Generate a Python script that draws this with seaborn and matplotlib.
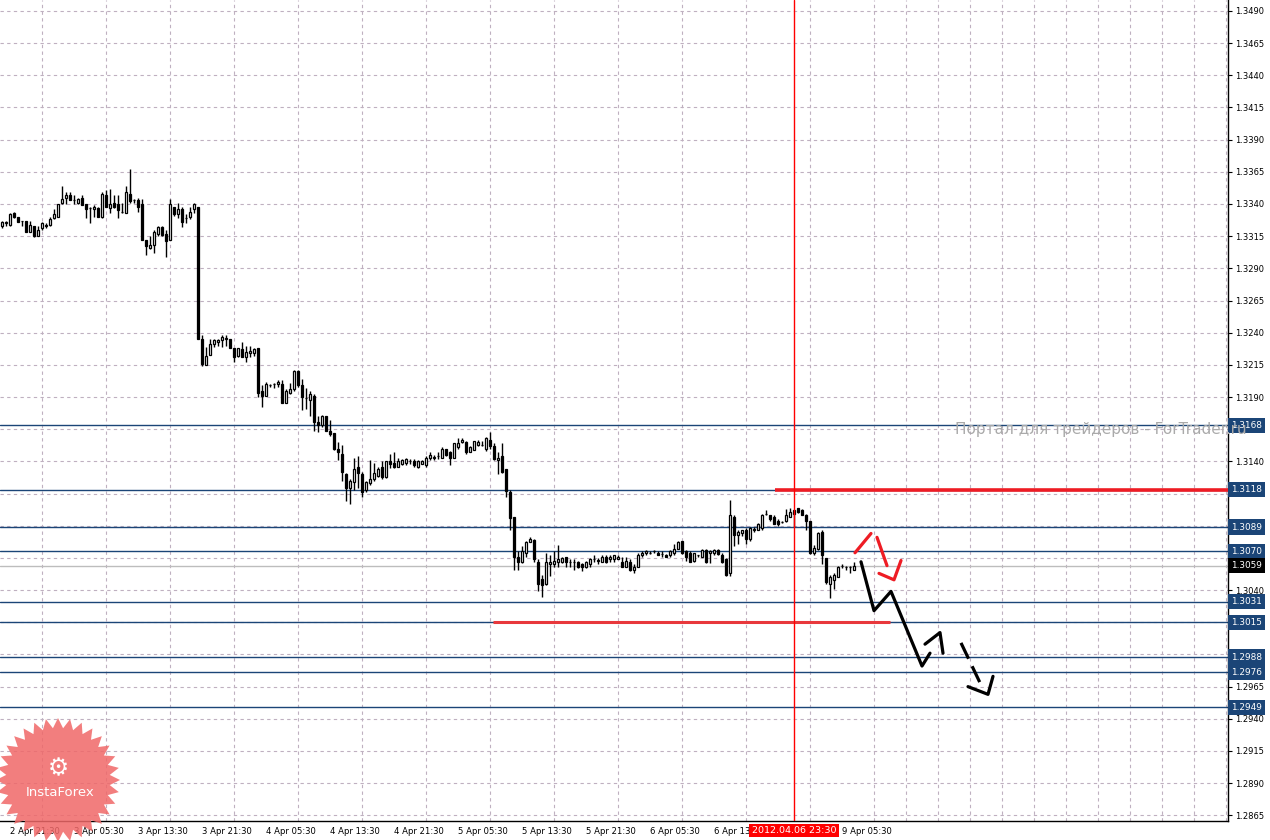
import numpy as np
import matplotlib
matplotlib.use("Agg")
import matplotlib.pyplot as plt
import matplotlib.transforms as mtransforms
from matplotlib.patches import Polygon
import seaborn as sns
import pandas as pd

# EURUSD M30, bar index 0 = 2 Apr 20:30
opens = [
    1.3323, 1.3325, 1.3324, 1.3333, 1.3330, 1.3327, 1.3327, 1.3318, 1.3323, 1.3315,
    1.3321, 1.3324, 1.3324, 1.3329, 1.3330, 1.3341, 1.3345, 1.3347, 1.3343, 1.3341,
    1.3345, 1.3340, 1.3337, 1.3336, 1.3337, 1.3330, 1.3347, 1.3337, 1.3341, 1.3340,
    1.3334, 1.3333, 1.3348, 1.3343, 1.3343, 1.3340, 1.3312, 1.3306, 1.3308, 1.3317,
    1.3322, 1.3317, 1.3312, 1.3338, 1.3332, 1.3336, 1.3329, 1.3330, 1.3336, 1.3338,
    1.3235, 1.3215, 1.3223, 1.3231, 1.3233, 1.3234, 1.3235, 1.3235, 1.3228, 1.3222,
    1.3227, 1.3221, 1.3224, 1.3224, 1.3228, 1.3195, 1.3191, 1.3199, 1.3200, 1.3200,
    1.3200, 1.3185, 1.3193, 1.3196, 1.3210, 1.3199, 1.3189, 1.3188, 1.3191, 1.3171,
    1.3168, 1.3175, 1.3164, 1.3162, 1.3150, 1.3146, 1.3130, 1.3119, 1.3124, 1.3136,
    1.3130, 1.3118, 1.3123, 1.3126, 1.3129, 1.3136, 1.3128, 1.3140, 1.3139, 1.3136,
    1.3138, 1.3139, 1.3140, 1.3140, 1.3136, 1.3138, 1.3137, 1.3143, 1.3143, 1.3144,
    1.3143, 1.3150, 1.3147, 1.3143, 1.3151, 1.3155, 1.3155, 1.3147, 1.3149, 1.3153,
    1.3153, 1.3150, 1.3157, 1.3152, 1.3141, 1.3144, 1.3134, 1.3116, 1.3097, 1.3066,
    1.3062, 1.3069, 1.3077, 1.3079, 1.3062, 1.3049, 1.3045, 1.3060, 1.3060, 1.3062,
    1.3062, 1.3066, 1.3062, 1.3062, 1.3062, 1.3060, 1.3058, 1.3060, 1.3064, 1.3063,
    1.3062, 1.3066, 1.3064, 1.3064, 1.3064, 1.3062, 1.3058, 1.3062, 1.3056, 1.3058,
    1.3067, 1.3069, 1.3069, 1.3070, 1.3069, 1.3068, 1.3067, 1.3067, 1.3069, 1.3072,
    1.3078, 1.3070, 1.3069, 1.3063, 1.3067, 1.3066, 1.3071, 1.3069, 1.3069, 1.3071,
    1.3067, 1.3064, 1.3053, 1.3097, 1.3083, 1.3084, 1.3087, 1.3080, 1.3087, 1.3087,
    1.3088, 1.3099, 1.3098, 1.3097, 1.3094, 1.3093, 1.3094, 1.3097, 1.3099, 1.3104,
    1.3102, 1.3098, 1.3094, 1.3069, 1.3072, 1.3085, 1.3065, 1.3045, 1.3048, 1.3050,
    1.3059, 1.3058, 1.3058, 1.3056,
]
highs = [
    1.3327, 1.3327, 1.3333, 1.3334, 1.3330, 1.3327, 1.3327, 1.3327, 1.3323, 1.3323,
    1.3326, 1.3325, 1.3330, 1.3336, 1.3340, 1.3354, 1.3349, 1.3349, 1.3347, 1.3345,
    1.3347, 1.3340, 1.3338, 1.3339, 1.3338, 1.3349, 1.3351, 1.3352, 1.3347, 1.3347,
    1.3341, 1.3354, 1.3367, 1.3344, 1.3345, 1.3344, 1.3312, 1.3315, 1.3320, 1.3323,
    1.3323, 1.3320, 1.3344, 1.3338, 1.3341, 1.3338, 1.3332, 1.3338, 1.3341, 1.3338,
    1.3238, 1.3229, 1.3235, 1.3235, 1.3235, 1.3238, 1.3238, 1.3235, 1.3228, 1.3228,
    1.3233, 1.3230, 1.3230, 1.3228, 1.3228, 1.3199, 1.3202, 1.3200, 1.3201, 1.3203,
    1.3203, 1.3196, 1.3201, 1.3211, 1.3211, 1.3204, 1.3197, 1.3195, 1.3192, 1.3175,
    1.3176, 1.3175, 1.3172, 1.3162, 1.3155, 1.3153, 1.3131, 1.3126, 1.3143, 1.3144,
    1.3132, 1.3125, 1.3141, 1.3139, 1.3136, 1.3140, 1.3140, 1.3146, 1.3147, 1.3143,
    1.3142, 1.3143, 1.3142, 1.3142, 1.3141, 1.3141, 1.3144, 1.3147, 1.3145, 1.3147,
    1.3151, 1.3150, 1.3148, 1.3154, 1.3158, 1.3158, 1.3156, 1.3152, 1.3156, 1.3157,
    1.3156, 1.3159, 1.3163, 1.3154, 1.3147, 1.3154, 1.3134, 1.3118, 1.3097, 1.3070,
    1.3074, 1.3078, 1.3081, 1.3080, 1.3064, 1.3052, 1.3069, 1.3067, 1.3070, 1.3075,
    1.3066, 1.3066, 1.3064, 1.3064, 1.3063, 1.3061, 1.3063, 1.3065, 1.3067, 1.3065,
    1.3067, 1.3067, 1.3067, 1.3067, 1.3067, 1.3066, 1.3066, 1.3064, 1.3060, 1.3069,
    1.3070, 1.3071, 1.3070, 1.3071, 1.3070, 1.3070, 1.3068, 1.3071, 1.3076, 1.3078,
    1.3078, 1.3071, 1.3070, 1.3069, 1.3067, 1.3072, 1.3072, 1.3071, 1.3072, 1.3072,
    1.3069, 1.3065, 1.3110, 1.3098, 1.3087, 1.3087, 1.3088, 1.3089, 1.3089, 1.3092,
    1.3099, 1.3102, 1.3098, 1.3098, 1.3095, 1.3094, 1.3103, 1.3104, 1.3102, 1.3104,
    1.3103, 1.3099, 1.3094, 1.3075, 1.3085, 1.3087, 1.3065, 1.3052, 1.3053, 1.3059,
    1.3060, 1.3059, 1.3059, 1.3062,
]
lows = [
    1.3321, 1.3323, 1.3323, 1.3329, 1.3326, 1.3323, 1.3318, 1.3318, 1.3314, 1.3315,
    1.3320, 1.3321, 1.3323, 1.3328, 1.3330, 1.3340, 1.3340, 1.3343, 1.3340, 1.3340,
    1.3339, 1.3329, 1.3325, 1.3330, 1.3330, 1.3329, 1.3338, 1.3333, 1.3337, 1.3329,
    1.3333, 1.3333, 1.3341, 1.3341, 1.3334, 1.3312, 1.3300, 1.3305, 1.3302, 1.3315,
    1.3315, 1.3299, 1.3312, 1.3331, 1.3329, 1.3322, 1.3325, 1.3328, 1.3333, 1.3235,
    1.3214, 1.3215, 1.3223, 1.3229, 1.3230, 1.3229, 1.3230, 1.3228, 1.3217, 1.3221,
    1.3221, 1.3217, 1.3221, 1.3222, 1.3190, 1.3182, 1.3191, 1.3198, 1.3197, 1.3198,
    1.3185, 1.3185, 1.3192, 1.3195, 1.3198, 1.3180, 1.3181, 1.3175, 1.3164, 1.3163,
    1.3167, 1.3164, 1.3160, 1.3149, 1.3141, 1.3125, 1.3109, 1.3107, 1.3118, 1.3119,
    1.3112, 1.3116, 1.3122, 1.3125, 1.3128, 1.3126, 1.3127, 1.3135, 1.3135, 1.3136,
    1.3137, 1.3137, 1.3138, 1.3136, 1.3135, 1.3138, 1.3136, 1.3141, 1.3141, 1.3142,
    1.3143, 1.3144, 1.3137, 1.3143, 1.3150, 1.3154, 1.3146, 1.3147, 1.3149, 1.3152,
    1.3152, 1.3148, 1.3150, 1.3141, 1.3130, 1.3131, 1.3112, 1.3087, 1.3056, 1.3056,
    1.3061, 1.3066, 1.3077, 1.3062, 1.3039, 1.3035, 1.3044, 1.3051, 1.3058, 1.3058,
    1.3061, 1.3058, 1.3058, 1.3056, 1.3057, 1.3055, 1.3057, 1.3058, 1.3062, 1.3060,
    1.3062, 1.3061, 1.3062, 1.3062, 1.3064, 1.3058, 1.3058, 1.3055, 1.3053, 1.3058,
    1.3066, 1.3067, 1.3068, 1.3069, 1.3067, 1.3066, 1.3066, 1.3066, 1.3067, 1.3072,
    1.3068, 1.3063, 1.3062, 1.3062, 1.3066, 1.3066, 1.3061, 1.3061, 1.3067, 1.3067,
    1.3061, 1.3051, 1.3051, 1.3074, 1.3076, 1.3082, 1.3076, 1.3078, 1.3085, 1.3087,
    1.3087, 1.3098, 1.3094, 1.3091, 1.3090, 1.3092, 1.3093, 1.3097, 1.3089, 1.3100,
    1.3098, 1.3087, 1.3068, 1.3067, 1.3071, 1.3060, 1.3045, 1.3034, 1.3041, 1.3050,
    1.3057, 1.3056, 1.3053, 1.3056,
]
closes = [
    1.3326, 1.3326, 1.3332, 1.3330, 1.3326, 1.3327, 1.3318, 1.3324, 1.3315, 1.3320,
    1.3325, 1.3323, 1.3328, 1.3332, 1.3340, 1.3344, 1.3347, 1.3343, 1.3343, 1.3344,
    1.3339, 1.3336, 1.3337, 1.3338, 1.3330, 1.3348, 1.3338, 1.3340, 1.3338, 1.3335,
    1.3334, 1.3349, 1.3342, 1.3343, 1.3338, 1.3312, 1.3307, 1.3308, 1.3318, 1.3322,
    1.3316, 1.3311, 1.3340, 1.3332, 1.3336, 1.3326, 1.3329, 1.3334, 1.3340, 1.3235,
    1.3216, 1.3222, 1.3231, 1.3234, 1.3234, 1.3237, 1.3236, 1.3228, 1.3221, 1.3228,
    1.3221, 1.3225, 1.3226, 1.3227, 1.3193, 1.3191, 1.3200, 1.3199, 1.3200, 1.3202,
    1.3185, 1.3195, 1.3196, 1.3210, 1.3199, 1.3190, 1.3189, 1.3192, 1.3171, 1.3168,
    1.3175, 1.3164, 1.3161, 1.3150, 1.3147, 1.3132, 1.3119, 1.3125, 1.3134, 1.3131,
    1.3116, 1.3124, 1.3126, 1.3131, 1.3134, 1.3128, 1.3140, 1.3138, 1.3136, 1.3140,
    1.3141, 1.3142, 1.3140, 1.3137, 1.3140, 1.3140, 1.3143, 1.3145, 1.3143, 1.3144,
    1.3150, 1.3145, 1.3143, 1.3154, 1.3154, 1.3157, 1.3147, 1.3151, 1.3156, 1.3155,
    1.3153, 1.3158, 1.3152, 1.3142, 1.3143, 1.3132, 1.3117, 1.3096, 1.3066, 1.3062,
    1.3070, 1.3077, 1.3080, 1.3064, 1.3045, 1.3044, 1.3062, 1.3062, 1.3063, 1.3064,
    1.3065, 1.3062, 1.3062, 1.3062, 1.3058, 1.3058, 1.3062, 1.3064, 1.3064, 1.3063,
    1.3066, 1.3062, 1.3066, 1.3067, 1.3066, 1.3058, 1.3063, 1.3056, 1.3058, 1.3067,
    1.3069, 1.3070, 1.3069, 1.3070, 1.3067, 1.3068, 1.3066, 1.3070, 1.3072, 1.3077,
    1.3069, 1.3066, 1.3062, 1.3069, 1.3067, 1.3071, 1.3062, 1.3070, 1.3071, 1.3068,
    1.3062, 1.3052, 1.3098, 1.3083, 1.3085, 1.3087, 1.3080, 1.3088, 1.3087, 1.3091,
    1.3098, 1.3099, 1.3095, 1.3091, 1.3091, 1.3093, 1.3098, 1.3101, 1.3102, 1.3101,
    1.3098, 1.3094, 1.3069, 1.3073, 1.3084, 1.3067, 1.3046, 1.3050, 1.3052, 1.3058,
    1.3059, 1.3058, 1.3058, 1.3059,
]

tick_bars = [2, 18, 34, 50, 66, 82, 98, 114, 130, 146, 162, 178, 194, 210]
# the 6 Apr 21:30 label sits under the cursor time box, so it stays blank
tick_labels = ["2 Apr 21:30", "3 Apr 05:30", "3 Apr 13:30", "3 Apr 21:30",
               "4 Apr 05:30", "4 Apr 13:30", "4 Apr 21:30", "5 Apr 05:30",
               "5 Apr 13:30", "5 Apr 21:30", "6 Apr 05:30", "6 Apr 13:30",
               "", "9 Apr 05:30"]

levels = [1.3168, 1.3118, 1.3089, 1.3070, 1.3031, 1.3015, 1.2988, 1.2976, 1.2949]
last_price = 1.3059
cursor_bar = 198
cursor_label = "2012.04.06 23:30"

# red support / resistance segments: (price, start bar, end bar)
red_upper = (1.3118, 193.25, 306.5)
red_lower = (1.3015, 122.75, 222.0)

# hand-drawn forecast strokes (bar, price)
red_up_x, red_up_y = [213.25, 217.25], [1.3069, 1.3084]
red_dn_x, red_dn_y = [218.75, 221.25], [1.3081, 1.3059]
red_chk_x, red_chk_y = [219.25, 223.0, 224.75], [1.3053, 1.3048, 1.3063]
blk_main_x = [214.75, 218.0, 222.25, 230.0, 232.0]
blk_main_y = [1.3062, 1.3024, 1.3039, 1.2981, 1.2991]
blk_hook_x, blk_hook_y = [230.75, 234.5, 235.25], [1.2998, 1.3007, 1.2991]
blk_dash_x, blk_dash_y = [239.75, 244.5], [1.2999, 1.2968]
blk_tail_x, blk_tail_y = [241.5, 246.5, 247.75], [1.2965, 1.2959, 1.2973]

W, H = 1270, 840
NAVY = "#1b4577"
RED = "#ee1c24"

sns.set_style("white")
plt.rcParams["font.family"] = ["DejaVu Sans"]

fig = plt.figure(figsize=(W / 100, H / 100), dpi=100)
ax = fig.add_axes([0, 19 / H, 1228 / W, 821 / H])

df = pd.DataFrame({"o": opens, "h": highs, "l": lows, "c": closes})
df["x"] = np.arange(len(df))
up = df["c"] >= df["o"]

ax.vlines(df["x"], df["l"], df["h"], color="black", lw=1, zorder=3)
body_lo = np.minimum(df["o"], df["c"])
body_h = np.maximum(np.abs(df["c"] - df["o"]), 0.00001)
ax.bar(df["x"][up], body_h[up], bottom=body_lo[up], width=0.62,
       color="white", edgecolor="black", linewidth=0.9, zorder=4)
ax.bar(df["x"][~up], body_h[~up], bottom=body_lo[~up], width=0.62,
       color="black", edgecolor="black", linewidth=0.9, zorder=4)

# horizontal levels
for lvl in levels:
    ax.axhline(lvl, color=NAVY, lw=1.0, zorder=2)
ax.axhline(last_price, color="#bdbdbd", lw=1.0, zorder=2)

# red support / resistance
ax.plot([red_upper[1], red_upper[2]], [red_upper[0]] * 2, color=RED, lw=2.6,
        solid_capstyle="butt", zorder=5)
ax.plot([red_lower[1], red_lower[2]], [red_lower[0]] * 2, color="#e8383c", lw=2.2,
        solid_capstyle="butt", zorder=5)
ax.axvline(cursor_bar, color="#ff0000", lw=1.0, zorder=5)

# forecast strokes
for xs, ys in [(red_up_x, red_up_y), (red_dn_x, red_dn_y), (red_chk_x, red_chk_y)]:
    sns.lineplot(x=xs, y=ys, ax=ax, color=RED, lw=2.3, sort=False,
                 estimator=None, zorder=6)
for xs, ys in [(blk_main_x, blk_main_y), (blk_hook_x, blk_hook_y),
               (blk_tail_x, blk_tail_y)]:
    sns.lineplot(x=xs, y=ys, ax=ax, color="black", lw=2.3, sort=False,
                 estimator=None, zorder=6)
sns.lineplot(x=blk_dash_x, y=blk_dash_y, ax=ax, color="black", lw=2.3,
             sort=False, estimator=None, zorder=6, dashes=False)
ax.lines[-1].set_dashes((5.5, 2.6))

# axes, grid
ax.set_xlim(-0.5, 306.5)
ax.set_ylim(1.28606, 1.34985)
ax.yaxis.tick_right()
grid_prices = np.arange(1.2865, 1.34905, 0.0025)
covered = [1.3165, 1.3115, 1.3090, 1.3065, 1.3015, 1.2990]
ax.set_yticks(grid_prices)
ax.set_yticklabels(["" if np.isclose(covered, v, atol=1e-6).any() else f"{v:.4f}"
                    for v in grid_prices])
ax.set_xticks(tick_bars)
ax.set_xticklabels(tick_labels)
ax.set_xticks(np.arange(2, 307, 8), minor=True)
ax.tick_params(axis="y", which="major", direction="out", length=3, width=0.8,
               pad=2, labelsize=6.0, colors="black")
ax.tick_params(axis="x", which="major", direction="out", length=3, width=0.8,
               pad=1.5, labelsize=6.1, colors="black")
ax.tick_params(axis="x", which="minor", length=0)
for lbl in ax.get_xticklabels():
    lbl.set_horizontalalignment("left")
ax.grid(False)
ax.yaxis.grid(True, which="major", color="#bfb0c0", ls=(0, (3, 3)), lw=0.8)
ax.xaxis.grid(True, which="minor", color="#bfb0c0", ls=(0, (3, 3)), lw=0.8)
ax.set_axisbelow(True)
for side in ["top", "left"]:
    ax.spines[side].set_visible(False)
for side in ["right", "bottom"]:
    ax.spines[side].set_color("black")
    ax.spines[side].set_linewidth(1.0)

# price label boxes on the axis
lab_x = 307.3
for lvl in levels:
    ax.text(lab_x, lvl, f"{lvl:.4f}", ha="left", va="center", color="white",
            fontsize=6.4, clip_on=False, zorder=7,
            bbox=dict(boxstyle="square,pad=0.35", fc=NAVY, ec="none"))
ax.text(lab_x, last_price, f"{last_price:.4f}", ha="left", va="center",
        color="white", fontsize=6.4, clip_on=False, zorder=7,
        bbox=dict(boxstyle="square,pad=0.35", fc="black", ec="none"))

# cursor time label
trans = mtransforms.blended_transform_factory(ax.transData, ax.transAxes)
ax.text(cursor_bar, -9.5 / 821, cursor_label, transform=trans, ha="center",
        va="center", color="white", fontsize=6.8, clip_on=False, zorder=8,
        bbox=dict(boxstyle="square,pad=0.25", fc="#ff0000", ec="none"))

# watermark
fig.text(955 / W, 1 - 430 / H, "Портал для трейдеров - ForTrader.ru",
         ha="left", va="center", fontsize=11, color="#aaaaaa", zorder=10)

# InstaForex badge
cx, cy, r_out, r_in, n = 58, H - 780, 62, 52, 32
ang = np.linspace(0, 2 * np.pi, 2 * n, endpoint=False) + np.pi / 2
rad = np.where(np.arange(2 * n) % 2 == 0, r_out, r_in)
pts = np.column_stack([(cx + rad * np.cos(ang)) / W, (cy + rad * np.sin(ang)) / H])
fig.patches.append(Polygon(pts, closed=True, transform=fig.transFigure,
                           fc="#f06868", ec="none", alpha=0.85, zorder=9))
fig.text(cx / W, 1 - 768 / H, "\u2699", ha="center", va="center", fontsize=17,
         color="white", zorder=11)
fig.text((cx + 2) / W, 1 - 793 / H, "InstaForex", ha="center", va="center",
         fontsize=9.5, color="white", zorder=11)

fig.savefig("out.png", dpi=100)
